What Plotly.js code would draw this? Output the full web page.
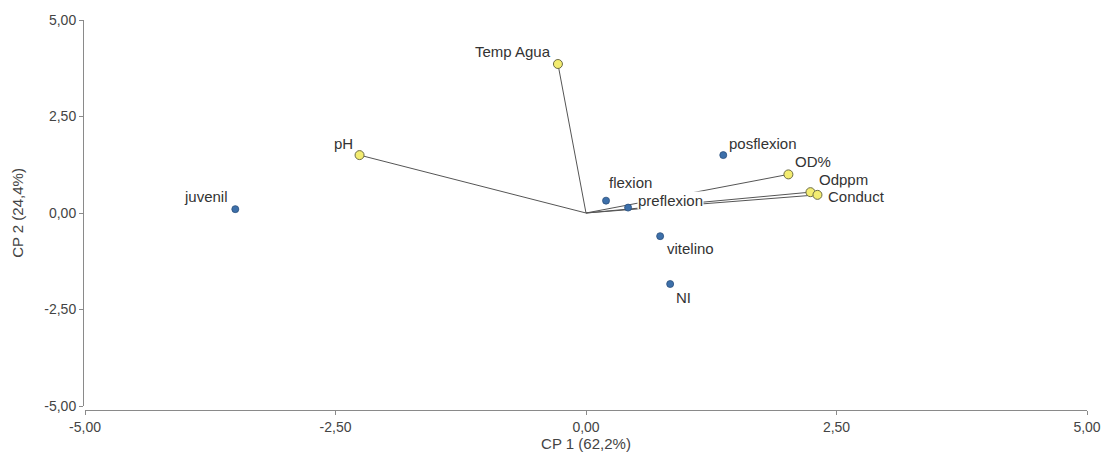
<!DOCTYPE html>
<html>
<head>
<meta charset="utf-8">
<script src="https://cdn.plot.ly/plotly-3.0.1.min.js"></script>
<style>
  html, body { margin: 0; padding: 0; background: #fff; }
  #chart { width: 1110px; height: 458px; }
</style>
</head>
<body>
<div id="chart"></div>
<script>
// PCA biplot: sample scores (stages) and variable loadings on CP 1 / CP 2
const stageNames = ["juvenil", "flexion", "preflexion", "vitelino", "NI", "posflexion"];
const stageCP1   = [-3.50, 0.20, 0.42, 0.74, 0.84, 1.37];
const stageCP2   = [0.10, 0.32, 0.14, -0.60, -1.84, 1.50];

const varNames = ["Temp Agua", "pH", "OD%", "Odppm", "Conduct"];
const varCP1   = [-0.28, -2.26, 2.02, 2.24, 2.31];
const varCP2   = [3.86, 1.50, 1.00, 0.54, 0.47];

const tickValues = [-5, -2.5, 0, 2.5, 5];
// decimal comma and plain hyphen for negatives
const tickLabels = tickValues.map(v => v.toFixed(2).replace(".", ","));

// label placement offsets (pixels) around each marker
const stageLabelPos = {
  "juvenil":    {xanchor: "right", xshift: -6, yshift: 13},
  "flexion":    {xanchor: "left",  xshift: 2,  yshift: 18},
  "preflexion": {xanchor: "left",  xshift: 9,  yshift: 7},
  "vitelino":   {xanchor: "left",  xshift: 6,  yshift: -12},
  "NI":         {xanchor: "left",  xshift: 5,  yshift: -13},
  "posflexion": {xanchor: "left",  xshift: 5,  yshift: 12}
};
const varLabelPos = {
  "Temp Agua": {xanchor: "right", xshift: -6, yshift: 13},
  "pH":        {xanchor: "right", xshift: -6, yshift: 12},
  "OD%":       {xanchor: "left",  xshift: 6,  yshift: 13},
  "Odppm":     {xanchor: "left",  xshift: 8,  yshift: 13},
  "Conduct":   {xanchor: "left",  xshift: 10, yshift: -2}
};

const labelFont = {family: "Liberation Sans, Arial, sans-serif", size: 15, color: "#333"};

// loading vectors from the origin
const vecX = [], vecY = [];
varNames.forEach((n, i) => { vecX.push(0, varCP1[i], null); vecY.push(0, varCP2[i], null); });

const traces = [
  {
    x: vecX, y: vecY, type: "scatter", mode: "lines",
    line: {color: "#555", width: 1}, hoverinfo: "skip", showlegend: false
  },
  {
    x: stageCP1, y: stageCP2, text: stageNames, type: "scatter", mode: "markers",
    marker: {size: 7, color: "#3d70aa", line: {color: "#2b4f7c", width: 0.8}},
    showlegend: false
  },
  {
    x: varCP1, y: varCP2, text: varNames, type: "scatter", mode: "markers",
    marker: {size: 9, color: "#f3ec70", line: {color: "#6b6b45", width: 1}},
    showlegend: false
  }
];

const annotations = [];
stageNames.forEach((n, i) => {
  const p = stageLabelPos[n];
  annotations.push({
    x: stageCP1[i], y: stageCP2[i], text: n, showarrow: false,
    xanchor: p.xanchor, yanchor: "middle", xshift: p.xshift, yshift: p.yshift,
    font: labelFont, bgcolor: "#fff", borderpad: 0
  });
});
varNames.forEach((n, i) => {
  const p = varLabelPos[n];
  annotations.push({
    x: varCP1[i], y: varCP2[i], text: n, showarrow: false,
    xanchor: p.xanchor, yanchor: "middle", xshift: p.xshift, yshift: p.yshift,
    font: labelFont, bgcolor: "#fff", borderpad: 0
  });
});

const axisCommon = {
  range: [-5, 5], tickmode: "array", tickvals: tickValues, ticktext: tickLabels,
  showgrid: false, zeroline: false, showline: true,
  linecolor: "#8a8a8a", linewidth: 1,
  ticks: "outside", ticklen: 4, tickcolor: "#8a8a8a",
  tickfont: {family: "Liberation Sans, Arial, sans-serif", size: 14, color: "#444"},
  anchor: "free", position: 0
};

const layout = {
  width: 1110, height: 458,
  margin: {l: 83, r: 23, t: 20, b: 48},
  paper_bgcolor: "#fff", plot_bgcolor: "#fff",
  xaxis: Object.assign({}, axisCommon, {
    domain: [2 / 1004, 1],
    title: {text: "CP 1 (62,2%)", standoff: 3,
            font: {family: "Liberation Sans, Arial, sans-serif", size: 15, color: "#444"}}
  }),
  yaxis: Object.assign({}, axisCommon, {
    domain: [4 / 390, 1],
    title: {text: "CP 2 (24,4%)", standoff: 16,
            font: {family: "Liberation Sans, Arial, sans-serif", size: 15, color: "#444"}}
  }),
  annotations: annotations,
  hovermode: "closest"
};

Plotly.newPlot("chart", traces, layout, {displayModeBar: false, staticPlot: true});
</script>
</body>
</html>
